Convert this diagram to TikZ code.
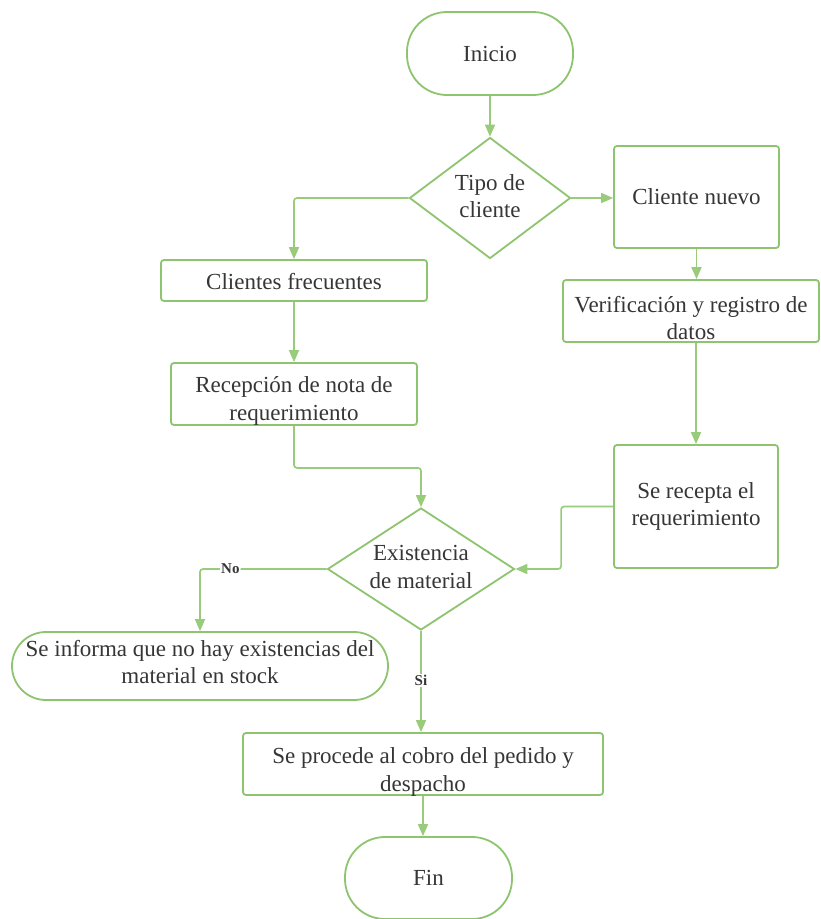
\documentclass[tikz,border=0pt]{standalone}
\usepackage{fontspec}
\setmainfont{Liberation Serif}
\usetikzlibrary{arrows.meta,shapes.geometric}
\definecolor{gline}{HTML}{98CC7A}
\definecolor{gbox}{HTML}{8EC46F}
\definecolor{txtc}{HTML}{363636}
\begin{document}
\begin{tikzpicture}[x=1pt,y=-1pt,
  box/.style={draw=gbox,line width=1.8pt,rounded corners=3pt,fill=white,inner sep=0pt},
  term/.style={draw=gbox,line width=1.8pt,rounded corners=40pt,fill=white,inner sep=0pt},
  dec/.style={draw=gbox,line width=1.8pt,diamond,fill=white,inner sep=0pt},
  lbl/.style={text=txtc,font=\fontsize{23}{27.5}\selectfont,align=center,inner sep=0pt},
  conn/.style={draw=gline,line width=1.7pt,rounded corners=3pt,-{Triangle[length=12pt,width=10pt]}},
  yn/.style={fill=white,text=txtc,font=\fontsize{15}{18}\selectfont\bfseries,inner sep=1pt},
]
\fill[white] (0,0) rectangle (821,919);
\useasboundingbox (0,0) rectangle (821,919);

% shapes
\node[term,minimum width=166pt,minimum height=83pt] (inicio) at (490,53.5) {};
\node[dec,minimum width=161pt,minimum height=121pt] (tipo) at (490,198) {};
\node[box,minimum width=266pt,minimum height=41pt] (frec) at (294,280.5) {};
\node[box,minimum width=165pt,minimum height=102pt] (nuevo) at (696.5,197) {};
\node[box,minimum width=256pt,minimum height=62pt] (verif) at (691,311) {};
\node[box,minimum width=246pt,minimum height=62pt] (recep) at (294,394) {};
\node[box,minimum width=164pt,minimum height=123pt] (recepta) at (696,506.5) {};
\node[dec,minimum width=187pt,minimum height=122pt] (exist) at (421,569) {};
\node[term,rounded corners=34pt,minimum width=376pt,minimum height=68pt] (informa) at (200,666) {};
\node[box,minimum width=360pt,minimum height=62pt] (procede) at (423,764) {};
\node[term,minimum width=167pt,minimum height=82pt] (fin) at (428.5,878) {};

% texts
\node[lbl] (tinicio) at (inicio.center) {Inicio};
\node[lbl] (ttipo) at ([yshift=2pt]tipo.center) {Tipo de\\cliente};
\node[lbl] (tfrec) at ([yshift=-1.5pt]frec.center) {Clientes frecuentes};
\node[lbl] (tnuevo) at (nuevo.center) {Cliente nuevo};
\node[lbl] (tverif) at ([yshift=-7pt]verif.center) {Verificación y registro de\\datos};
\node[lbl] (trecep) at ([yshift=-7pt]recep.center) {Recepción de nota de\\requerimiento};
\node[lbl] (trecepta) at (recepta.center) {Se recepta el\\requerimiento};
\node[lbl] (texist) at ([yshift=2pt]exist.center) {Existencia\\de material};
\node[lbl] (tinforma) at ([yshift=4pt]informa.center) {Se informa que no hay existencias del\\material en stock};
\node[lbl] (tprocede) at ([yshift=-8pt]procede.center) {Se procede al cobro del pedido y\\despacho};
\node[lbl] (tfin) at (fin.center) {Fin};

% connectors
\draw[conn] (inicio.south) -- (tipo.north);
\draw[conn] (tipo.west) -| (frec.north);
\draw[conn] (tipo.east) -- (tipo.east -| nuevo.west);
\draw[conn] (nuevo.south) -- (nuevo.south |- verif.north);
\draw[conn] (recepta.north |- verif.south) -- (recepta.north);
\draw[conn] (frec.south) -- (recep.north);
\draw[conn] (recep.south) -- ++(0,42) -| (exist.north);
\draw[conn] (recepta.west) -- ++(-52,0) |- (exist.east);
\draw[conn] (exist.west) -| (informa.north) node[yn,pos=0.38] (no) {No};
\draw[conn] (exist.south) -- (exist.south |- procede.north) node[yn,pos=0.49] (si) {Si};
\draw[conn] (procede.south) -- (procede.south |- fin.north);
\end{tikzpicture}
\end{document}
